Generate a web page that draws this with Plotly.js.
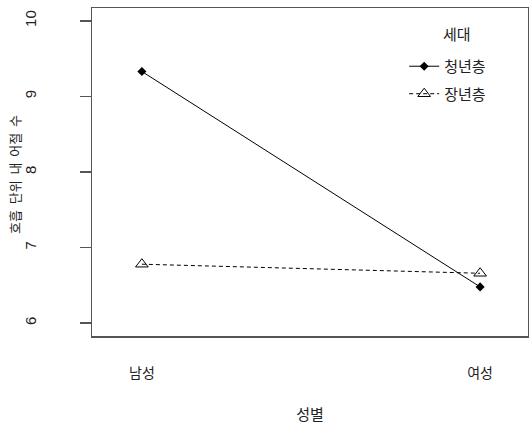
<!DOCTYPE html>
<html>
<head>
<meta charset="utf-8">
<script src="https://cdn.plot.ly/plotly-3.0.1.min.js"></script>
<style>html,body{margin:0;padding:0;background:#fff;}</style>
</head>
<body>
<div id="chart" style="width:529px;height:426px;"></div>
<script>
const categories = ['남성', '여성'];
const catPos = [1, 2];
const youngValues = [9.33, 6.48];
const olderValues = [6.78, 6.66];
const seriesNames = ['청년층', '장년층'];
const yTicks = [6, 7, 8, 9, 10];

const kfont = '"Noto Sans CJK KR", "Noto Sans", sans-serif';
const traces = [
  {
    x: catPos, y: youngValues, name: seriesNames[0], legendgroup: 'g1', type: 'scatter', mode: 'lines+markers',
    line: {color: '#000', width: 1},
    marker: {symbol: 'diamond', size: 7, color: '#000'}
  },
  {
    x: catPos, y: olderValues, name: seriesNames[1], legendgroup: 'g2', type: 'scatter', mode: 'lines+markers',
    line: {color: '#000', width: 1, dash: '4px,3px'},
    marker: {symbol: 'triangle-up-open', size: 11, color: '#000', line: {width: 1}}
  }
];

const layout = {
  width: 529, height: 426,
  margin: {l: 92, r: 1, t: 8, b: 90},
  paper_bgcolor: '#fff', plot_bgcolor: '#fff',
  showlegend: true,
  legend: {
    x: 0.716, y: 0.872, xanchor: 'left', yanchor: 'top',
    font: {family: kfont, size: 15, color: '#222'},
    bgcolor: 'rgba(0,0,0,0)', itemwidth: 30, tracegroupgap: 5
  },
  annotations: [
    {
      text: '세대', xref: 'paper', yref: 'paper', x: 0.80, y: 0.885,
      xanchor: 'left', yanchor: 'bottom', showarrow: false,
      font: {family: kfont, size: 15, color: '#222'}
    },
    {
      text: '호흡&nbsp; 단위&nbsp; 내&nbsp; 어절&nbsp; 수', textangle: -90,
      xref: 'paper', yref: 'paper', x: -0.1766, y: 0.491,
      xanchor: 'center', yanchor: 'middle', showarrow: false,
      font: {family: kfont, size: 13, color: '#222'}
    }
  ],
  xaxis: {
    range: [0.8525, 2.1416],
    tickvals: catPos, ticktext: categories,
    ticks: '', showgrid: false, zeroline: false,
    showline: true, linecolor: '#555', linewidth: 1.5, mirror: true,
    ticklabelstandoff: 24,
    tickfont: {family: kfont, size: 14, color: '#222'},
    title: {text: '성별', font: {family: kfont, size: 15, color: '#222'}, standoff: 28}
  },
  yaxis: {
    range: [5.83, 10.17],
    tickvals: yTicks, ticktext: yTicks.map(String),
    ticks: 'outside', ticklen: 11, tickcolor: '#555', tickwidth: 1.5,
    tickangle: -90, ticklabelstandoff: 38,
    showgrid: false, zeroline: false,
    showline: true, linecolor: '#555', linewidth: 1.5, mirror: true,
    tickfont: {family: '"Liberation Sans", Arial, sans-serif', size: 15, color: '#222'}
  }
};

Plotly.newPlot('chart', traces, layout, {displayModeBar: false, staticPlot: true});
</script>
</body>
</html>
